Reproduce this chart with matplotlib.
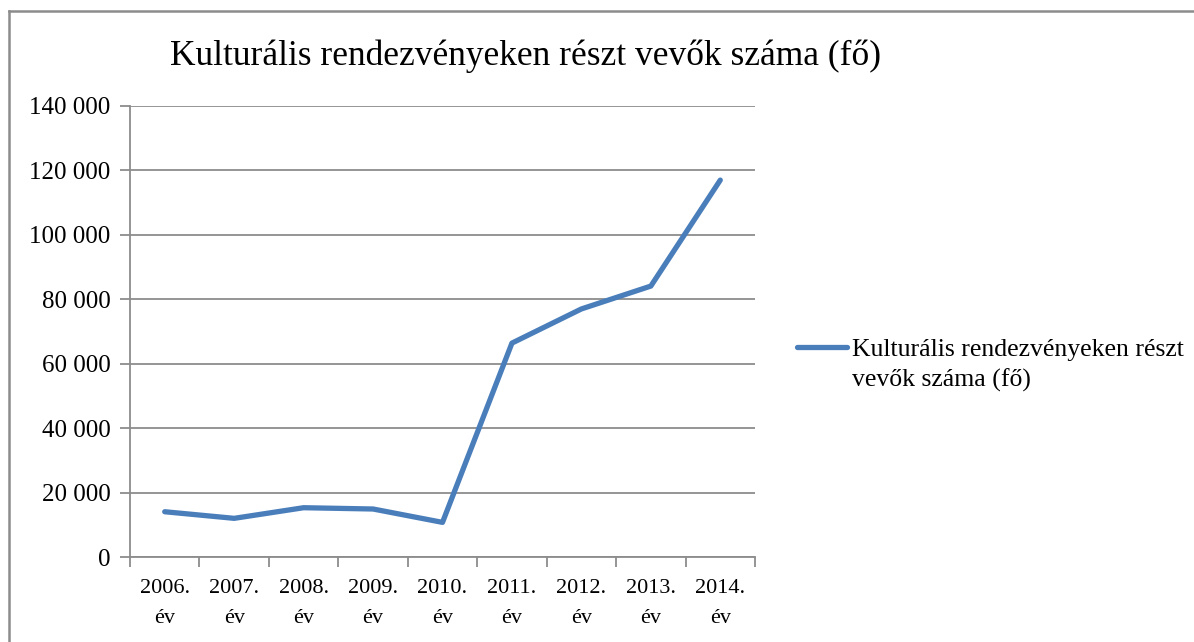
import matplotlib
matplotlib.use("Agg")
import matplotlib.pyplot as plt
from matplotlib.lines import Line2D
from matplotlib.ticker import FuncFormatter, FixedLocator

years = ["2006.", "2007.", "2008.", "2009.", "2010.", "2011.", "2012.", "2013.", "2014."]
values = [14050, 12000, 15300, 14900, 10750, 66400, 77000, 84100, 117000]
series_name = "Kulturális rendezvényeken részt vevők száma (fő)"
title = "Kulturális rendezvényeken részt vevők száma (fő)"

plt.rcParams['font.family'] = ['Liberation Serif', 'DejaVu Serif']

W, H = 1194, 642
fig = plt.figure(figsize=(W/100, H/100), dpi=100)
ax = fig.add_axes([130/W, 1 - 557/H, (755-130)/W, (557-106)/H])

gray = "#8c8c8c"
x = list(range(len(years)))
line, = ax.plot(x, values, color="#4a7ebb", lw=3.8, solid_capstyle="round",
                solid_joinstyle="round", zorder=3, label=series_name)

ax.set_xlim(-0.5, len(years) - 0.5)
ax.set_ylim(0, 140000)
ax.set_yticks(range(0, 140001, 20000))
ax.yaxis.set_major_formatter(FuncFormatter(lambda v, p: f"{int(v):,}".replace(",", " ")))
ax.grid(axis="y", color=gray, lw=1.3, zorder=1)
ax.set_axisbelow(True)

ax.set_xticks(x)
ax.set_xticklabels([f"{y}\név" for y in years], fontsize=16, linespacing=1.8)
ax.xaxis.set_minor_locator(FixedLocator([i - 0.5 for i in range(len(years) + 1)]))
ax.tick_params(axis="x", which="major", length=0, pad=16)
ax.tick_params(axis="x", which="minor", length=7, width=1.3, color=gray, direction="out")
ax.tick_params(axis="y", length=7, width=1.3, color=gray, direction="out", labelsize=18, pad=7)

for s in ["top", "right"]:
    ax.spines[s].set_visible(False)
for s in ["left", "bottom"]:
    ax.spines[s].set_color(gray)
    ax.spines[s].set_linewidth(1.3)

fig.text(526/W, 1 - 56/H, title, ha="center", va="center", fontsize=25.5)

# legend
fig.add_artist(Line2D([797/W, 847/W], [1 - 347/H, 1 - 347/H], color="#4a7ebb", lw=3.8,
                      solid_capstyle="round"))
fig.text(852/W, 1 - 339/H, "Kulturális rendezvényeken részt\nvevők száma (fő)",
         ha="left", va="top", fontsize=18.5, linespacing=1.45)

# outer border
fig.add_artist(Line2D([9/W, 9/W], [0, 1 - 11/H], color=gray, lw=1.8))
fig.add_artist(Line2D([9/W, 1], [1 - 11/H, 1 - 11/H], color=gray, lw=1.8))

fig.savefig("out.png", dpi=100)
